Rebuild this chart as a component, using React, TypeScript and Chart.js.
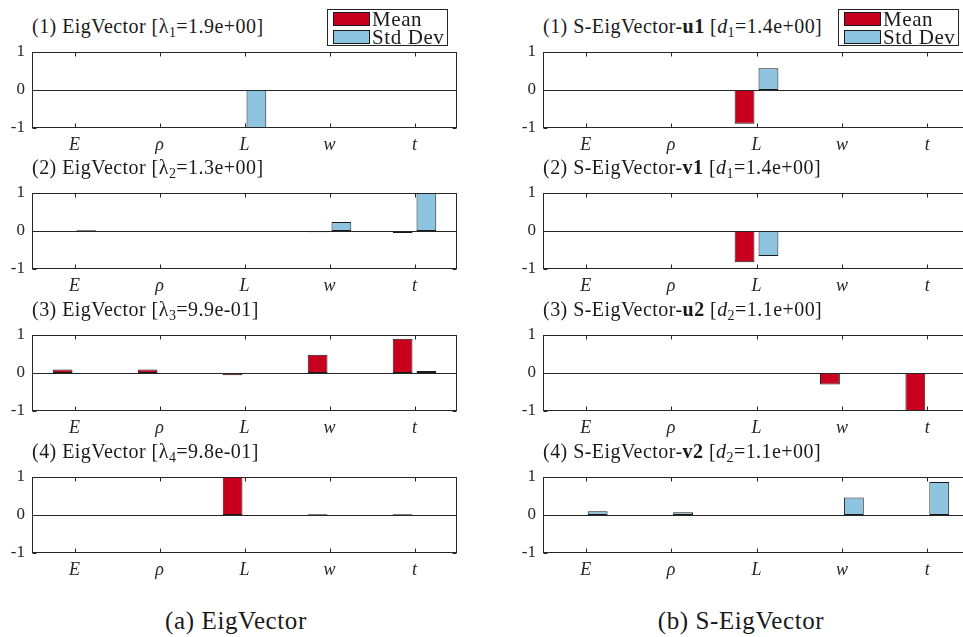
import React, { useEffect, useRef } from 'react';
import { Chart, registerables } from 'chart.js';

Chart.register(...registerables);

// ---------- data ----------
const categories = ['E', 'ρ', 'L', 'w', 't'];
const yTicks = [-1, 0, 1];
const seriesNames = ['Mean', 'Std Dev'];

// (a) EigVector
const eig1Mean = [0, 0, 0, 0, 0];
const eig1Std = [0, 0, -1, 0, 0];
const eig2Mean = [0, 0, 0, -0.03, -0.05];
const eig2Std = [0.02, 0, 0, 0.24, 1.0];
const eig3Mean = [0.09, 0.09, -0.06, 0.48, 0.9];
const eig3Std = [0, 0, 0, 0, 0.05];
const eig4Mean = [0, 0, 1.0, 0.02, 0.02];
const eig4Std = [0, 0, 0, 0, 0];
const eigValues = ['1.9e+00', '1.3e+00', '9.9e-01', '9.8e-01'];

// (b) S-EigVector
const u1Mean = [0, 0, -0.89, 0, 0];
const u1Std = [0, 0, 0.57, 0, 0];
const v1Mean = [0, 0, -0.82, 0, 0];
const v1Std = [0, 0, -0.66, 0, 0];
const u2Mean = [-0.02, -0.02, 0, -0.3, -1.0];
const u2Std = [0, 0, 0, 0, -0.02];
const v2Mean = [0, 0, 0, 0, 0];
const v2Std = [0.1, 0.07, 0, 0.46, 0.87];
const sVectors = ['u1', 'v1', 'u2', 'v2'];
const sIndex = ['1', '1', '2', '2'];
const sValues = ['1.4e+00', '1.4e+00', '1.1e+00', '1.1e+00'];

const captions = ['(a) EigVector', '(b) S-EigVector'];

// ---------- style ----------
const RED = '#c8001e';
const BLUE = '#8ec4df';
const EDGE = '#1a1a1a';
const AXIS = '#262626';
const FONT = "'Liberation Serif', 'DejaVu Serif', serif";

const areaTops = [52, 193, 335, 477];
const AREA_H = 76;
const PAD_TOP = 20;
const AXIS_W = 32;
const XAXIS_H = 30;
const PAD_RIGHT = 13;

const framePlugin = {
  id: 'frame',
  afterDatasetsDraw(chart: any) {
    const { ctx, chartArea: a, scales } = chart;
    const x = scales.x;
    const y = scales.y;
    ctx.save();
    ctx.strokeStyle = AXIS;
    ctx.lineWidth = 1;
    const L = Math.round(a.left) + 0.5;
    const R = Math.round(a.right) - 0.5;
    const T = Math.round(a.top) + 0.5;
    const B = Math.round(a.bottom) - 0.5;
    // baseline
    const y0 = Math.round(y.getPixelForValue(0)) + 0.5;
    ctx.beginPath();
    ctx.moveTo(L, y0);
    ctx.lineTo(R, y0);
    ctx.stroke();
    // box
    ctx.strokeRect(L, T, R - L, B - T);
    // inner ticks
    ctx.beginPath();
    categories.forEach((_, i) => {
      const px = Math.round(x.getPixelForValue(i)) + 0.5;
      ctx.moveTo(px, T);
      ctx.lineTo(px, T + 4);
      ctx.moveTo(px, B);
      ctx.lineTo(px, B - 4);
    });
    yTicks.forEach((v) => {
      const py = Math.round(y.getPixelForValue(v)) + 0.5;
      ctx.moveTo(L, py);
      ctx.lineTo(L + 4, py);
      ctx.moveTo(R, py);
      ctx.lineTo(R - 4, py);
    });
    ctx.stroke();
    ctx.restore();
  },
};

function SubPlot({ left, top, width, mean, std }: { left: number; top: number; width: number; mean: number[]; std: number[] }) {
  const ref = useRef<HTMLCanvasElement>(null);
  useEffect(() => {
    if (!ref.current) return;
    const bar = (label: string, data: number[], color: string) => ({
      label,
      data,
      backgroundColor: color,
      borderColor: EDGE,
      borderWidth: 1,
      borderSkipped: false,
      categoryPercentage: 0.56,
      barPercentage: 0.83,
    });
    const chart = new Chart(ref.current, {
      type: 'bar',
      data: {
        labels: categories,
        datasets: [bar(seriesNames[0], mean, RED), bar(seriesNames[1], std, BLUE)] as any,
      },
      options: {
        animation: false,
        responsive: false,
        devicePixelRatio: 1,
        layout: { padding: { top: PAD_TOP, right: PAD_RIGHT, left: 0, bottom: 0 } },
        plugins: { legend: { display: false }, tooltip: { enabled: false }, title: { display: false } },
        scales: {
          x: {
            offset: true,
            grid: { display: false, drawTicks: false },
            border: { display: false },
            ticks: { font: { family: FONT, style: 'italic', size: 18 }, color: AXIS, padding: 6, maxRotation: 0 },
            afterFit: (s: any) => {
              s.height = XAXIS_H;
            },
          },
          y: {
            min: -1,
            max: 1,
            afterBuildTicks: (s: any) => {
              s.ticks = yTicks.map((v) => ({ value: v }));
            },
            grid: { display: false, drawTicks: false },
            border: { display: false },
            ticks: { font: { family: FONT, size: 17 }, color: AXIS, padding: 7 },
            afterFit: (s: any) => {
              s.width = AXIS_W;
            },
          },
        },
      } as any,
      plugins: [framePlugin],
    });
    return () => chart.destroy();
  }, []);
  const h = PAD_TOP + AREA_H + XAXIS_H;
  return (
    <canvas
      ref={ref}
      width={width}
      height={h}
      style={{ position: 'absolute', left, top: top - PAD_TOP, width, height: h }}
    />
  );
}

const subStyle: React.CSSProperties = { fontSize: '0.7em', verticalAlign: '-0.3em', lineHeight: 0 };

function Legend({ left }: { left: number }) {
  const row = (label: string, color: string) => (
    <div style={{ display: 'flex', alignItems: 'center', height: 18, whiteSpace: 'nowrap' }}>
      <div style={{ flex: '0 0 auto', width: 35, height: 12, background: color, border: `1px solid ${EDGE}`, marginRight: 2 }} />
      <span style={{ fontSize: 21, lineHeight: '18px', letterSpacing: 0.6, whiteSpace: 'nowrap' }}>{label}</span>
    </div>
  );
  return (
    <div
      style={{
        position: 'absolute',
        left,
        top: 9,
        width: 121,
        height: 37,
        border: `1px solid ${AXIS}`,
        background: '#fff',
        padding: '0 0 0 5px',
        boxSizing: 'border-box',
      }}
    >
      {row(seriesNames[0], RED)}
      {row(seriesNames[1], BLUE)}
    </div>
  );
}

export default function App() {
  const leftData = [
    [eig1Mean, eig1Std],
    [eig2Mean, eig2Std],
    [eig3Mean, eig3Std],
    [eig4Mean, eig4Std],
  ];
  const rightData = [
    [u1Mean, u1Std],
    [v1Mean, v1Std],
    [u2Mean, u2Std],
    [v2Mean, v2Std],
  ];
  const titleStyle = (left: number, t: number): React.CSSProperties => ({
    position: 'absolute',
    left,
    top: t - 38,
    fontSize: 20,
    letterSpacing: 0.45,
    lineHeight: '24px',
    whiteSpace: 'nowrap',
    color: EDGE,
  });
  return (
    <div
      style={{
        position: 'fixed',
        left: 0,
        top: 0,
        width: 963,
        height: 637,
        overflow: 'hidden',
        background: '#fff',
        fontFamily: FONT,
        color: EDGE,
      }}
    >
      {areaTops.map((t, i) => (
        <React.Fragment key={i}>
          <div style={titleStyle(32, t)}>
            ({i + 1}) EigVector [λ<sub style={subStyle}>{i + 1}</sub>={eigValues[i]}]
          </div>
          <div style={titleStyle(543, t)}>
            ({i + 1}) S-EigVector-<b>{sVectors[i]}</b> [<i>d</i>
            <sub style={subStyle}>{sIndex[i]}</sub>={sValues[i]}]
          </div>
          <SubPlot left={0} top={t} width={470} mean={leftData[i][0]} std={leftData[i][1]} />
          <SubPlot left={511} top={t} width={472} mean={rightData[i][0]} std={rightData[i][1]} />
        </React.Fragment>
      ))}
      <Legend left={327} />
      <Legend left={838} />
      <div style={{ position: 'absolute', left: 136, top: 607, width: 200, textAlign: 'center', fontSize: 25, letterSpacing: 0.6 }}>
        {captions[0]}
      </div>
      <div style={{ position: 'absolute', left: 641, top: 607, width: 200, textAlign: 'center', fontSize: 25, letterSpacing: 0.6 }}>
        {captions[1]}
      </div>
    </div>
  );
}
